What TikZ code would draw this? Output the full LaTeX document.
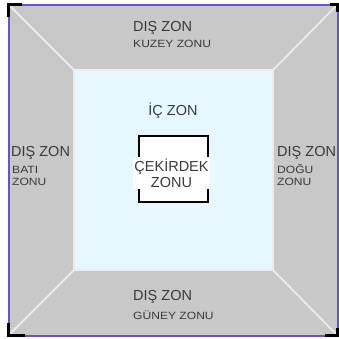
\documentclass[tikz,border=0pt]{standalone}
\usepackage{fontspec}
\setmainfont{Liberation Sans}
\definecolor{zonegray}{RGB}{200,200,200}
\definecolor{innerblue}{RGB}{230,248,254}
\definecolor{sepline}{RGB}{236,236,240}
\definecolor{frame}{RGB}{100,84,206}
\definecolor{txtgray}{RGB}{58,58,58}
\newcommand{\smalltext}[1]{\scalebox{1.15}[1]{#1}}
\begin{document}
\begin{tikzpicture}[x=1pt,y=-1pt,
  big/.style={font=\fontsize{14.5}{16}\selectfont, text=txtgray, inner sep=0pt},
  small/.style={font=\fontsize{10.5}{11}\selectfont, text=txtgray, inner sep=0pt},
  sep/.style={draw=sepline, line width=1.8pt},
  frameline/.style={draw=frame, line width=2pt},
  corner/.style={draw=black, line width=3pt}]
\useasboundingbox (0,0) rectangle (339,338);
\fill[white] (0,0) rectangle (339,338);
\coordinate (o1) at (8.5,4.5);
\coordinate (o2) at (337.5,4.5);
\coordinate (o3) at (337.5,335.5);
\coordinate (o4) at (8.5,335.5);
\coordinate (i1) at (74,70);
\coordinate (i2) at (273,70);
\coordinate (i3) at (273,270);
\coordinate (i4) at (74,270);
\fill[zonegray] (o1) rectangle (o3);
\fill[innerblue] (i1) rectangle (i3);
\draw[sep] (o1) -- (i1);
\draw[sep] (o2) -- (i2);
\draw[sep] (o3) -- (i3);
\draw[sep] (o4) -- (i4);
\draw[sep] (i1) rectangle (i3);
\draw[frameline] (o1) rectangle (o3);
% black corner marks
\draw[corner] (22,4.5) -- (o1) -- (8.5,17);
\draw[corner] (330,4.5) -- (o2) -- (337.5,12);
\draw[corner] (325,335.5) -- (o3) -- (337.5,328);
\draw[corner] (25,335.5) -- (o4) -- (8.5,323);
% core box
\coordinate (c1) at (139,136);
\coordinate (c2) at (208,202);
\draw[black, line width=1.5pt, fill=white] (c1) rectangle (c2);
\node[big, fill=white, align=center, inner sep=1.5pt] (core) at (171.5,173) {ÇEKİRDEK\\ZONU};
% texts
\node[big, anchor=base west] (tz) at (133,31) {DIŞ ZON};
\node[small, anchor=base west] (tzs) at (133,47.5) {\smalltext{KUZEY ZONU}};
\node[big, anchor=base west] (bz) at (133,300) {DIŞ ZON};
\node[small, anchor=base west] (bzs) at (133,319.5) {\smalltext{GÜNEY ZONU}};
\node[big, anchor=base] (iz) at (173,115) {İÇ ZON};
\node[big, anchor=base west] (lz) at (11,156) {DIŞ ZON};
\node[small, anchor=base west] (lz1) at (12,173.5) {\smalltext{BATI}};
\node[small, anchor=base west] (lz2) at (12,185.5) {\smalltext{ZONU}};
\node[big, anchor=base west] (rz) at (277,156) {DIŞ ZON};
\node[small, anchor=base west] (rz1) at (277,173.5) {\smalltext{DOĞU}};
\node[small, anchor=base west] (rz2) at (277,185.5) {\smalltext{ZONU}};
\end{tikzpicture}
\end{document}
